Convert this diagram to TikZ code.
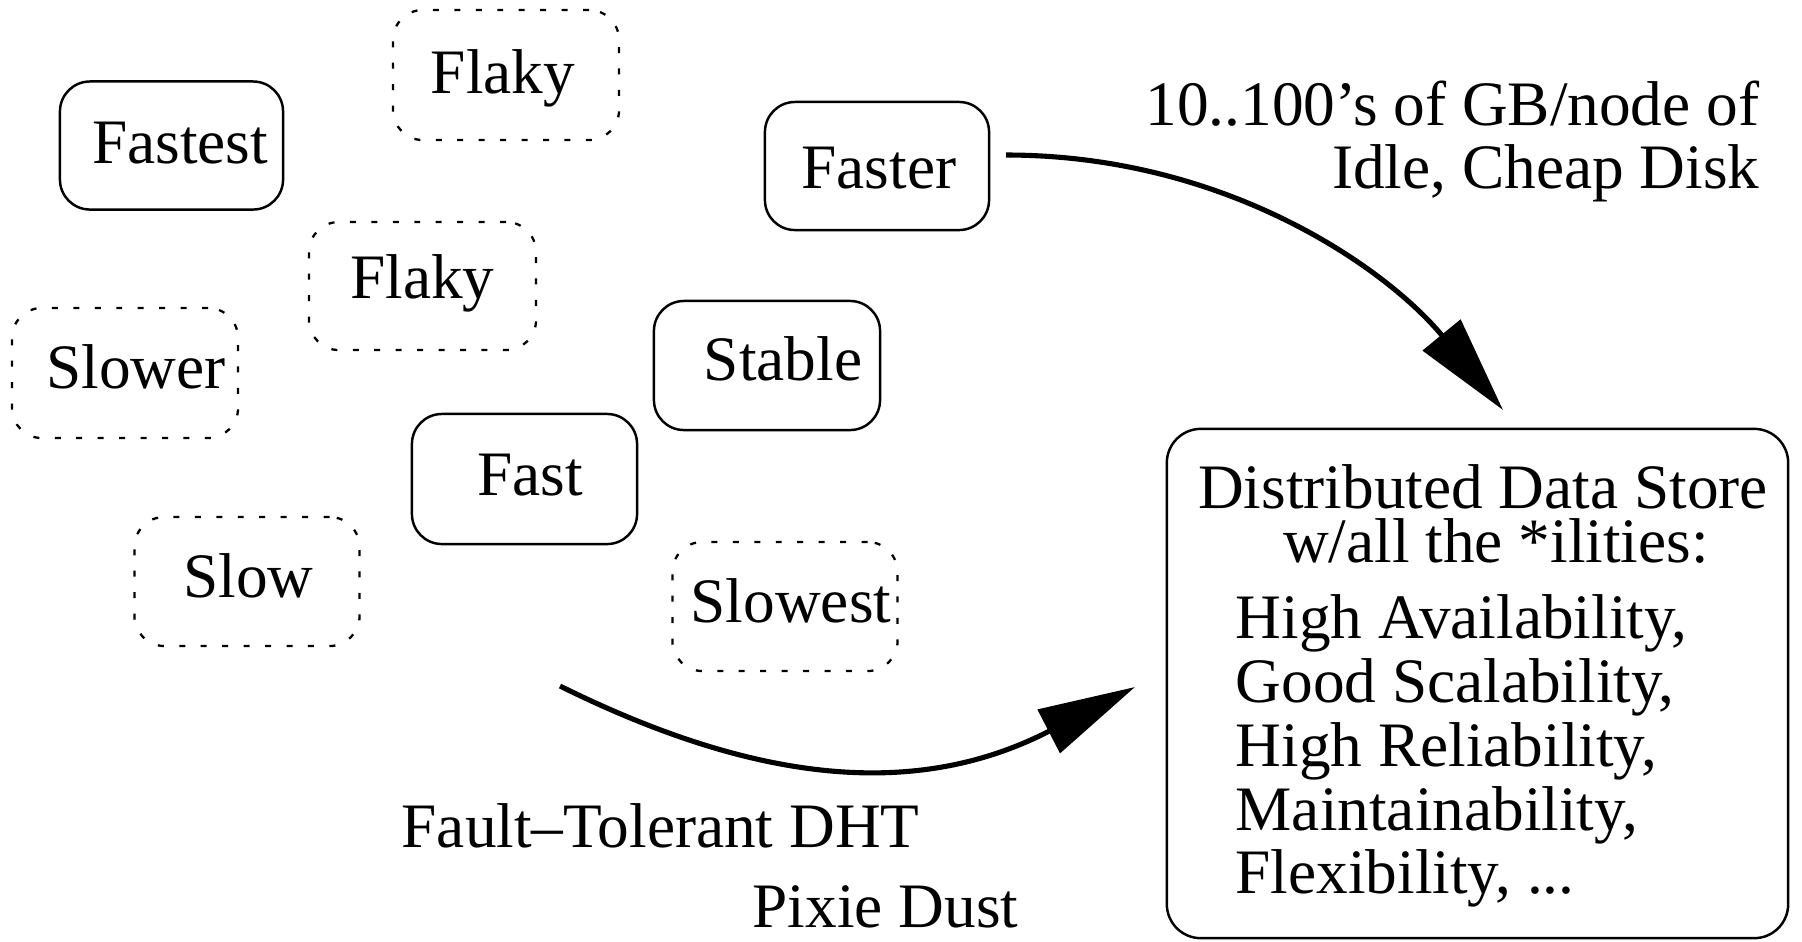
\documentclass[tikz,border=0pt]{standalone}
\usepackage{fontspec}
\setmainfont{Liberation Serif}
\usetikzlibrary{arrows.meta}
\newcommand\figfont{\fontsize{18}{18.2}\selectfont}
\tikzset{
  solidbox/.style={draw, rounded corners=0.3cm, line width=0.7pt, inner sep=0pt},
  dotbox/.style={draw, rounded corners=0.3cm, line width=0.65pt, dash pattern=on 1.7pt off 4.4pt, inner sep=0pt},
  bigbox/.style={draw, rounded corners=0.34cm, line width=0.7pt, inner sep=0pt},
  lbl/.style={inner sep=0pt, anchor=base, font=\figfont},
  lblw/.style={inner sep=0pt, anchor=base west, font=\figfont},
  lble/.style={inner sep=0pt, anchor=base east, font=\figfont},
  bigarrow/.style={line width=1.45pt, -{Triangle[length=0.97cm,width=0.48cm]}}
}
\begin{document}
\begin{tikzpicture}[x=0.01cm,y=-0.01cm]
\useasboundingbox (0,0) rectangle (1802,941);

% boxes
\node[solidbox, minimum width=2.23cm, minimum height=1.28cm] (fastest) at (171.5,145.5) {};
\node[lbl] (fastestT) at (180,163) {Fastest};
\node[dotbox, minimum width=2.26cm, minimum height=1.30cm] (flaky1) at (506,75) {};
\node[lbl] (flaky1T) at (503,93) {Flaky};
\node[solidbox, minimum width=2.24cm, minimum height=1.28cm] (faster) at (877,166) {};
\node[lbl] (fasterT) at (879,188) {Faster};
\node[dotbox, minimum width=2.27cm, minimum height=1.28cm] (flaky2) at (422.5,286) {};
\node[lbl] (flaky2T) at (422.5,298) {Flaky};
\node[dotbox, minimum width=2.26cm, minimum height=1.30cm] (slower) at (125,373) {};
\node[lbl] (slowerT) at (136,388) {Slower};
\node[solidbox, minimum width=2.26cm, minimum height=1.29cm] (stable) at (767,365.5) {};
\node[lbl] (stableT) at (783,380) {Stable};
\node[solidbox, minimum width=2.25cm, minimum height=1.30cm] (fast) at (524.5,479) {};
\node[lbl] (fastT) at (530,495) {Fast};
\node[dotbox, minimum width=2.25cm, minimum height=1.29cm] (slow) at (247,581.5) {};
\node[lbl] (slowT) at (248.5,597) {Slow};
\node[dotbox, minimum width=2.25cm, minimum height=1.29cm] (slowest) at (785,606.5) {};
\node[lbl] (slowestT) at (791,622) {Slowest};

% store
\node[bigbox, minimum width=6.21cm, minimum height=5.09cm] (store) at (1477.5,683.5) {};
\node[lbl] (st1) at (1483,508) {Distributed Data Store};
\node[lbl] (st2) at (1496,562) {w/all the *ilities:};
\node[lblw] (st3) at (1235,638) {High Availability,};
\node[lblw] (st4) at (1235,702) {Good Scalability,};
\node[lblw] (st5) at (1235,766) {High Reliability,};
\node[lblw] (st6) at (1235,830) {Maintainability,};
\node[lblw] (st7) at (1235,893) {Flexibility, ...};

% labels
\node[lble] (disk1) at (1760,125) {10..100’s of GB/node of};
\node[lble] (disk2) at (1760,188) {Idle, Cheap Disk};
\node[lblw] (dht) at (401,847) {Fault--Tolerant DHT};
\node[lblw] (pixie) at (752,927) {Pixie Dust};

% arrows
\coordinate (a1s) at (1006,155);
\coordinate (a1e) at (1503,410);
\coordinate (a2s) at (560,686);
\coordinate (a2e) at (1135,687);
\draw[bigarrow] (a1s) .. controls (1230,155) and (1390,272) .. (a1e);
\draw[bigarrow] (a2s) .. controls (770,790) and (925,795) .. (a2e);
\end{tikzpicture}
\end{document}
